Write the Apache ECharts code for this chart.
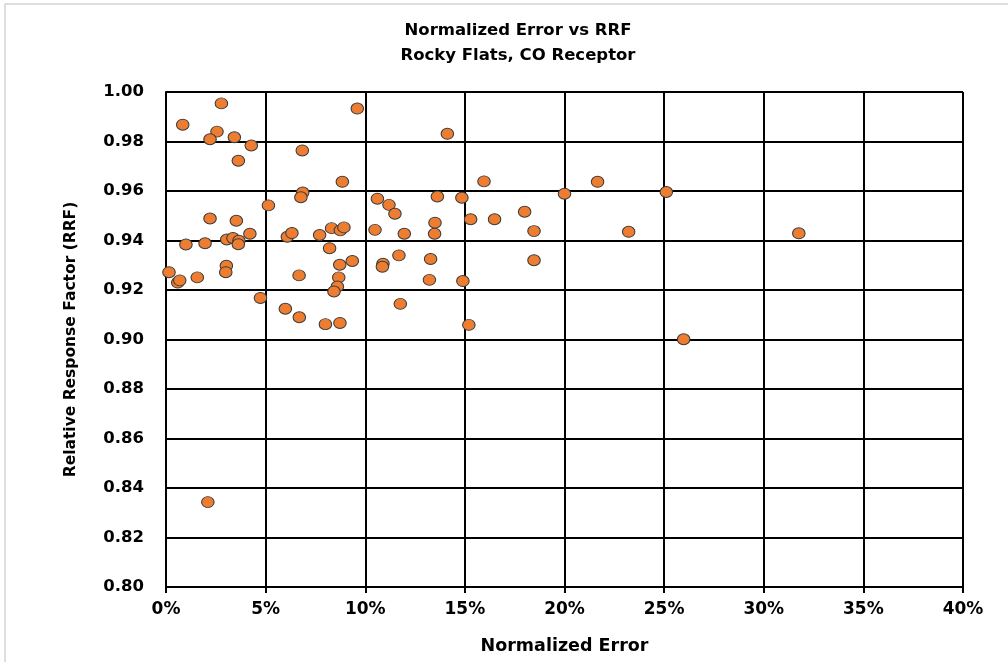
<!DOCTYPE html>
<html>
<head>
<meta charset="utf-8">
<script src="https://cdn.jsdelivr.net/npm/echarts@6/dist/echarts.min.js"></script>
<style>
  html, body { margin: 0; padding: 0; background: #fff; }
  #chart { width: 1008px; height: 662px; }
</style>
</head>
<body>
<div id="chart"></div>
<script>
// normalized error (%) and RRF for each sample
var normErr = [
  2.78, 0.84, 2.56, 2.21, 3.43, 4.28, 3.63, 9.60, 6.84, 8.85,
  6.86, 6.77, 5.14, 2.21, 3.53, 4.21, 3.05, 3.36, 3.66, 3.63,
  1.00, 1.96, 0.15, 0.59, 0.69, 1.57, 3.03, 3.00, 4.74, 6.09,
  6.32, 7.71, 8.31, 8.75, 8.93, 8.21, 8.72, 9.35, 6.68, 8.67,
  8.60, 8.43, 5.99, 6.69, 8.00, 8.73, 14.12, 15.96, 10.61, 11.19,
  11.49, 13.62, 14.85, 15.29, 16.49, 10.49, 11.96, 13.50, 13.48, 11.69,
  10.89, 10.86, 13.28, 13.22, 14.90, 11.76, 15.20, 21.66, 20.00, 25.11,
  18.00, 18.47, 23.22, 18.47, 25.98, 31.76, 2.10
];
var rrf = [
  0.9954, 0.9868, 0.9840, 0.9809, 0.9817, 0.9784, 0.9722, 0.9933, 0.9764, 0.9637,
  0.9594, 0.9575, 0.9542, 0.9489, 0.9480, 0.9427, 0.9404, 0.9410, 0.9399, 0.9385,
  0.9384, 0.9389, 0.9272, 0.9230, 0.9239, 0.9251, 0.9298, 0.9272, 0.9168, 0.9415,
  0.9430, 0.9422, 0.9450, 0.9441, 0.9453, 0.9369, 0.9302, 0.9317, 0.9259, 0.9251,
  0.9214, 0.9194, 0.9124, 0.9090, 0.9062, 0.9067, 0.9831, 0.9639, 0.9569, 0.9544,
  0.9508, 0.9578, 0.9573, 0.9486, 0.9486, 0.9443, 0.9427, 0.9472, 0.9427, 0.9340,
  0.9306, 0.9294, 0.9325, 0.9241, 0.9236, 0.9144, 0.9059, 0.9637, 0.9589, 0.9596,
  0.9516, 0.9438, 0.9435, 0.9320, 0.9001, 0.9429, 0.8343
];

var font = "DejaVu Sans";
var chart = echarts.init(document.getElementById("chart"));

var points = normErr.map(function (x, i) { return [x, rrf[i]]; });

var option = {
  animation: false,
  backgroundColor: "#fff",
  title: {
    text: "Normalized Error vs RRF\nRocky Flats, CO Receptor",
    left: 513,
    textAlign: "center",
    top: 13,
    textStyle: {
      fontFamily: font,
      fontWeight: "bold",
      fontSize: 16.5,
      lineHeight: 25,
      color: "#000"
    }
  },
  graphic: [{
    type: "rect",
    shape: { x: 5, y: 4, width: 1020, height: 700 },
    style: { fill: "none", stroke: "#d4d4d4", lineWidth: 1.5 },
    silent: true
  }],
  grid: { left: 166, right: 45, top: 92, bottom: 75 },
  xAxis: {
    type: "value",
    min: 0,
    max: 40,
    interval: 5,
    name: "Normalized Error",
    nameLocation: "middle",
    nameGap: 50,
    nameTextStyle: { fontFamily: font, fontWeight: "bold", fontSize: 17.5, color: "#000" },
    axisLine: { lineStyle: { color: "#000", width: 2 } },
    axisTick: { show: true, length: 6, lineStyle: { color: "#000", width: 2 } },
    axisLabel: {
      fontFamily: font, fontWeight: "bold", fontSize: 17, color: "#000", margin: 14,
      formatter: function (v) { return v + "%"; }
    },
    splitLine: { show: true, lineStyle: { color: "#000", width: 2 } }
  },
  yAxis: {
    type: "value",
    min: 0.8,
    max: 1.0,
    interval: 0.02,
    name: "Relative Response Factor (RRF)",
    nameLocation: "middle",
    nameGap: 87,
    nameTextStyle: { fontFamily: font, fontWeight: "bold", fontSize: 15.5, color: "#000" },
    axisLine: { show: true, lineStyle: { color: "#000", width: 2 } },
    axisTick: { show: false },
    axisLabel: {
      fontFamily: font, fontWeight: "bold", fontSize: 16.5, color: "#000", margin: 22,
      formatter: function (v) { return v.toFixed(2); }
    },
    splitLine: { show: true, lineStyle: { color: "#000", width: 2 } }
  },
  series: [{
    type: "scatter",
    data: points,
    symbol: "circle",
    symbolSize: [12.5, 11],
    itemStyle: { color: "#ED7D31", borderColor: "#3a3a3a", borderWidth: 1, opacity: 1 }
  }]
};

chart.setOption(option);
window.addEventListener("resize", chart.resize);
</script>
</body>
</html>
